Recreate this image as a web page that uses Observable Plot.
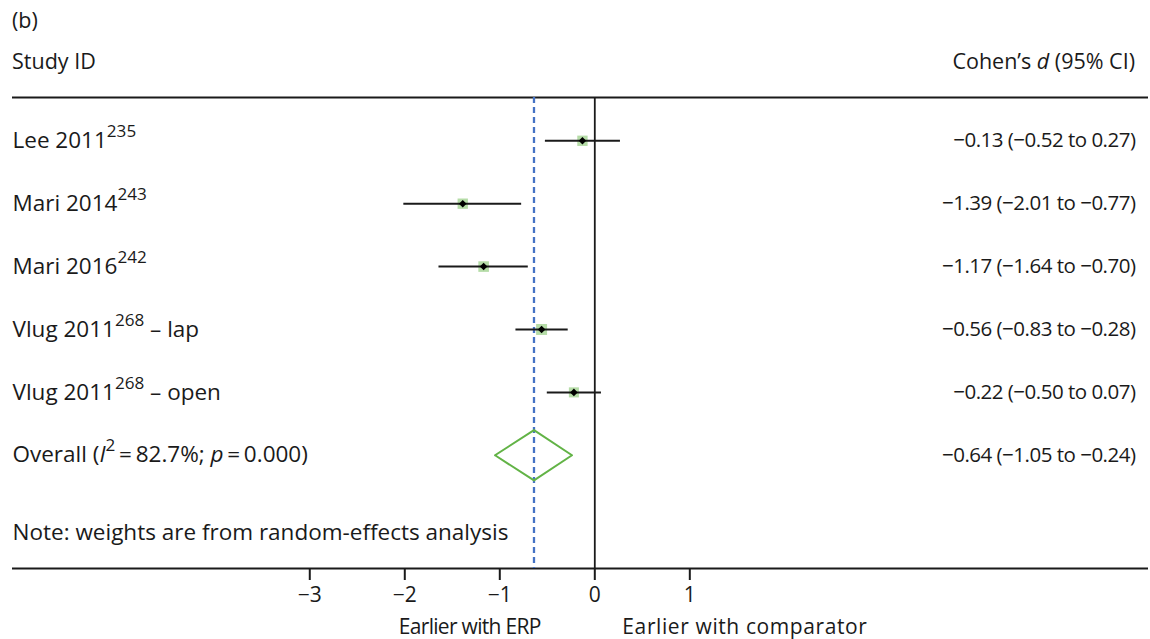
<!DOCTYPE html>
<html><head><meta charset="utf-8">
<script src="https://cdn.jsdelivr.net/npm/d3@7"></script>
<script src="https://cdn.jsdelivr.net/npm/@observablehq/plot@0.6"></script>
<style>
body{margin:0;background:#fff;font-family:"Open Sans",sans-serif;color:#1a1a1a}
#wrap{position:relative;width:1150px;height:639px;overflow:hidden}
#head{position:relative;height:80px;font-size:21.5px;line-height:29px}
#tag{position:absolute;left:12px;top:5px}
#sid{position:absolute;left:12px;top:46px}
#cd{position:absolute;right:15px;top:46px}
#chart svg{display:block}
</style></head><body>
<div id="wrap"><div id="head"><div id="tag">(b)</div><div id="sid">Study ID</div><div id="cd">Cohen’s <i>d</i> (95% CI)</div></div><div id="chart"></div></div>
<script>
const studies = ["Lee 2011", "Mari 2014", "Mari 2016", "Vlug 2011", "Vlug 2011"];
const refs = ["235", "243", "242", "268", "268"];
const arms = ["", "", "", "lap", "open"];
const estimates = [-0.13, -1.39, -1.17, -0.56, -0.22];
const lower = [-0.52, -2.01, -1.64, -0.83, -0.50];
const upper = [0.27, -0.77, -0.70, -0.28, 0.07];
const weights = [19.5, 19.5, 20.5, 22.0, 18.5];
const overallEstimate = -0.64;
const overallLower = -1.05;
const overallUpper = -0.24;
const overallI2 = 82.7;
const overallP = 0.000;
const noteText = "Note: weights are from random-effects analysis";
const xTicks = [-3, -2, -1, 0, 1];
const directionLabels = ["Earlier with ERP", "Earlier with comparator"];

const fmt = d3.format(".2f");
const rows = studies.map((s, i) => ({
  row: i,
  label: `${s}^{${refs[i]}}${arms[i] ? " – " + arms[i] : ""}`,
  d: estimates[i], lo: lower[i], hi: upper[i], w: weights[i],
  ci: `${fmt(estimates[i])} (${fmt(lower[i])} to ${fmt(upper[i])})`
}));
const overallRow = rows.length;
const overall = [{
  row: overallRow,
  label: `Overall (*{I}^{2}\u2009=\u2009${overallI2}%; *{p}\u2009=\u2009${overallP.toFixed(3)})`,
  ci: `${fmt(overallEstimate)} (${fmt(overallLower)} to ${fmt(overallUpper)})`
}];
const half = 0.4;
const diamond = [
  {x: overallLower, y: overallRow},
  {x: overallEstimate, y: overallRow - half},
  {x: overallUpper, y: overallRow},
  {x: overallEstimate, y: overallRow + half},
  {x: overallLower, y: overallRow}
];
const yDomain = [-0.688, 6.8];
const noteRow = 6.23;
const FS = 21.5;

const plot = Plot.plot({
  width: 1150, height: 559,
  marginLeft: 12, marginRight: 2, marginTop: 17, marginBottom: 71,
  style: {fontFamily: "Open Sans, sans-serif", fontSize: FS + "px", color: "#1a1a1a", background: "#fff", overflow: "visible"},
  x: {domain: [-6.129, 5.828]},
  y: {domain: yDomain, reverse: true, axis: null},
  r: {domain: [0, 25], range: [0, 6.6]},
  marks: [
    Plot.ruleY(yDomain, {strokeWidth: 2, stroke: "#1a1a1a"}),
    Plot.dot(rows, {x: "d", y: "row", r: "w", symbol: "square", fill: "#b5dca7"}),
    Plot.ruleX([0], {strokeWidth: 1.8, stroke: "#1a1a1a"}),
    Plot.ruleX([overallEstimate], {stroke: "#4472c4", strokeWidth: 2.3, strokeDasharray: "6,4"}),
    Plot.ruleY(rows, {y: "row", x1: "lo", x2: "hi", strokeWidth: 2, stroke: "#1a1a1a"}),
    Plot.dot(rows, {x: "d", y: "row", r: 3.4, symbol: "diamond2", fill: "#000"}),
    Plot.line(diamond, {x: "x", y: "y", stroke: "#62b346", strokeWidth: 2}),
    Plot.text(rows.concat(overall), {y: "row", text: "label", frameAnchor: "left", textAnchor: "start", fill: "#1a1a1a", fontSize: 22.5}),
    Plot.text(rows.concat(overall), {y: "row", text: "ci", frameAnchor: "right", textAnchor: "end", dx: -13, fill: "#1a1a1a", fontSize: 20.5}),
    Plot.text([noteText], {y: noteRow, text: d => d, frameAnchor: "left", textAnchor: "start", fill: "#1a1a1a", fontSize: 22.5}),
    Plot.axisX({ticks: xTicks, tickFormat: d3.format("d"), tickSize: 12, tickPadding: 7, strokeWidth: 2, label: null, fontSize: 21}),
    Plot.text([directionLabels[0]], {x: -0.57, text: d => d, frameAnchor: "bottom", dy: 65, textAnchor: "end", fill: "#1a1a1a", fontSize: 21}),
    Plot.text([directionLabels[1]], {x: 0.29, text: d => d, frameAnchor: "bottom", dy: 65, textAnchor: "start", fill: "#1a1a1a", fontSize: 21})
  ]
});

const NS = "http://www.w3.org/2000/svg";
function rich(el) {
  const s = el.textContent;
  if (!/[\^*]\{/.test(s)) return;
  while (el.firstChild) el.removeChild(el.firstChild);
  const add = (t, attrs) => {
    const ts = document.createElementNS(NS, "tspan");
    ts.textContent = t;
    if (attrs) for (const k in attrs) ts.setAttribute(k, attrs[k]);
    el.appendChild(ts);
  };
  const re = /([\^*])\{([^}]*)\}/g;
  let last = 0, m;
  while ((m = re.exec(s))) {
    if (m.index > last) add(s.slice(last, m.index));
    if (m[1] === "^") add(m[2], {"baseline-shift": "super", "font-size": "0.76em"});
    else add(m[2], {"font-style": "italic"});
    last = re.lastIndex;
  }
  if (last < s.length) add(s.slice(last));
}
plot.querySelectorAll("text").forEach(el => {
  rich(el);
  const t = el.textContent;
  if (/ to /.test(t) && /^\u2212?\d/.test(t)) el.style.letterSpacing = "-0.5px";
  if (t === directionLabels[0]) el.style.letterSpacing = "-0.7px";
  if (t === directionLabels[1]) el.style.letterSpacing = "0.6px";
});
document.getElementById("chart").appendChild(plot);
</script>
</body></html>
